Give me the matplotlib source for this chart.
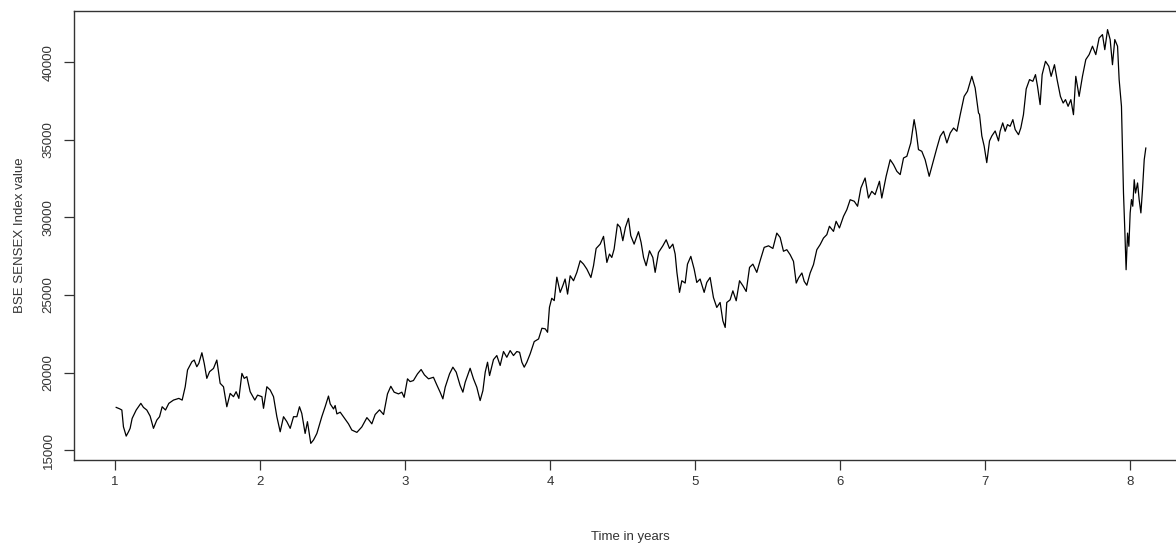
import matplotlib
matplotlib.use("Agg")
import matplotlib.pyplot as plt

plt.rcParams['font.family'] = ['Liberation Sans', 'DejaVu Sans']

# time (years) and BSE SENSEX index values
time_years = [
    1.007, 1.030, 1.046, 1.057, 1.076, 1.092, 1.103, 1.117, 1.145, 1.177, 1.195, 1.218,
    1.241, 1.264, 1.287, 1.306, 1.324, 1.347, 1.370, 1.402, 1.439, 1.462, 1.483, 1.499,
    1.529, 1.545, 1.563, 1.577, 1.598, 1.614, 1.632, 1.651, 1.678, 1.701, 1.724, 1.747,
    1.770, 1.793, 1.816, 1.834, 1.853, 1.874, 1.890, 1.908, 1.931, 1.963, 1.982, 2.012,
    2.023, 2.046, 2.069, 2.092, 2.115, 2.138, 2.161, 2.184, 2.207, 2.230, 2.253, 2.271,
    2.287, 2.310, 2.326, 2.349, 2.368, 2.391, 2.425, 2.448, 2.471,
    2.483, 2.506, 2.517, 2.529, 2.552, 2.586, 2.609, 2.632, 2.667, 2.701, 2.736, 2.754,
    2.770, 2.793, 2.823, 2.851, 2.878, 2.901, 2.924, 2.954, 2.977, 2.993, 3.016, 3.034,
    3.057, 3.085, 3.110, 3.133, 3.161, 3.195, 3.218, 3.241, 3.260, 3.276, 3.306, 3.329,
    3.352, 3.379, 3.398, 3.414, 3.448, 3.471, 3.494, 3.517, 3.536, 3.552, 3.568, 3.582,
    3.609, 3.632, 3.655, 3.678, 3.701, 3.724, 3.747, 3.770, 3.789, 3.805, 3.821, 3.839,
    3.862, 3.890, 3.920, 3.943, 3.966, 3.982, 3.995, 4.011, 4.028, 4.046,
    4.069, 4.087, 4.103, 4.120, 4.138, 4.161, 4.184, 4.207, 4.230, 4.253, 4.281, 4.299,
    4.317, 4.345, 4.368, 4.391, 4.409, 4.425, 4.441, 4.464, 4.483, 4.501, 4.519, 4.540,
    4.556, 4.579, 4.609, 4.627, 4.644, 4.662, 4.685, 4.708, 4.724, 4.747, 4.777, 4.800,
    4.823, 4.846, 4.862, 4.874, 4.892, 4.908, 4.931, 4.947, 4.970, 4.993, 5.011, 5.034,
    5.062, 5.080, 5.103, 5.126, 5.149, 5.172, 5.191, 5.207, 5.218, 5.241, 5.260, 5.283,
    5.306, 5.329, 5.352, 5.375, 5.398, 5.425, 5.448, 5.476, 5.506, 5.536, 5.563, 5.586,
    5.609, 5.632, 5.655, 5.678, 5.697, 5.713, 5.736, 5.752, 5.770, 5.793, 5.816, 5.839,
    5.862, 5.885, 5.908, 5.926, 5.954, 5.972, 5.995, 6.023, 6.046, 6.069, 6.097, 6.120,
    6.143, 6.172, 6.195, 6.218, 6.241, 6.271, 6.287, 6.317, 6.345, 6.368, 6.391, 6.414,
    6.437, 6.460, 6.487, 6.510, 6.524, 6.540, 6.563, 6.586, 6.614, 6.639, 6.667, 6.690,
    6.713, 6.736, 6.759, 6.782, 6.805, 6.828, 6.855, 6.878, 6.908, 6.931, 6.954,
    6.961, 6.977, 6.993, 7.011, 7.030, 7.046, 7.069, 7.092,
    7.103, 7.121, 7.138, 7.154, 7.172, 7.191, 7.207, 7.230, 7.246, 7.264, 7.283, 7.306,
    7.329, 7.347, 7.361, 7.379, 7.393, 7.416, 7.439, 7.455, 7.478, 7.496, 7.519, 7.538,
    7.554, 7.572, 7.591, 7.609, 7.625, 7.648, 7.671, 7.694, 7.717, 7.740, 7.763, 7.786,
    7.809, 7.825, 7.844, 7.862, 7.878, 7.894, 7.913, 7.924, 7.940, 7.954, 7.963, 7.972,
    7.982, 7.991, 8.000, 8.009, 8.018, 8.028, 8.037, 8.051, 8.062, 8.074, 8.085, 8.097,
    8.108,
]
sensex = [
    17760, 17670, 17590, 16510, 15910, 16190, 16410, 17050, 17590, 18020, 17760, 17590,
    17200, 16410, 16940, 17160, 17800, 17590, 18020, 18230, 18340, 18230, 19090, 20170,
    20700, 20810, 20380, 20600, 21280, 20600, 19630, 20060, 20270, 20810, 19310, 19090,
    17800, 18660, 18450, 18770, 18340, 19950, 19630, 19740, 18770, 18230, 18550, 18450,
    17700, 19090, 18880, 18450, 17160, 16190, 17160, 16840, 16410, 17160, 17160, 17800,
    17370, 16080, 16840, 15440, 15660, 16080, 17160, 17800, 18490,
    17985, 17660, 17880, 17340, 17450, 17000, 16700, 16300, 16150, 16500, 17100, 16900,
    16700, 17300, 17600, 17300, 18630, 19120, 18740, 18630, 18740, 18410, 19600, 19420,
    19490, 19920, 20200, 19850, 19600, 19700, 19210, 18740, 18310, 19060, 19920, 20350,
    20030, 19170, 18740, 19380, 20280, 19600, 19060, 18200, 18840, 20030, 20670, 19810,
    20840, 21100, 20460, 21360, 20990, 21420, 21100, 21360, 21310, 20670, 20350, 20670,
    21210, 22000, 22170, 22860, 22820, 22600, 24210, 24790, 24640, 26150,
    25170, 25600, 26030, 25060, 26240, 25920, 26460, 27210, 26990, 26670, 26130, 26890,
    28000, 28280, 28780, 27100, 27640, 27420, 27960, 29570, 29360, 28500, 29360, 29940,
    28820, 28280, 29080, 28390, 27420, 26890, 27850, 27420, 26460, 27740, 28170, 28560,
    28000, 28280, 27640, 26460, 25170, 25920, 25770, 26990, 27490, 26670, 25810, 26030,
    25170, 25810, 26130, 24840, 24200, 24520, 23340, 22910, 24520, 24690, 25270, 24630,
    25920, 25600, 25230, 26780, 26990, 26460, 27210, 28070, 28170, 28000, 28990, 28710,
    27820, 27920, 27600, 27170, 25770, 26100, 26420, 25880, 25630, 26420, 26960, 27920,
    28250, 28670, 28890, 29430, 29100, 29750, 29320, 30070, 30500, 31140, 31040, 30720,
    31900, 32540, 31250, 31680, 31470, 32330, 31250, 32650, 33720, 33400, 32970, 32760,
    33830, 33940, 34800, 36300, 35550, 34370, 34260, 33720, 32650, 33510, 34480, 35230,
    35550, 34800, 35440, 35760, 35550, 36620, 37800, 38130, 39090, 38340, 36730,
    36640, 35250, 34600, 33530, 34930, 35250, 35570, 34930,
    35550, 36090, 35550, 35980, 35870, 36300, 35660, 35330, 35770, 36620, 38280, 38880,
    38770, 39200, 38450, 37270, 39200, 40060, 39740, 39090, 39840, 38880, 37800, 37370,
    37590, 37160, 37590, 36620, 39090, 37800, 39090, 40170, 40490, 41030, 40490, 41560,
    41780, 40810, 42100, 41460, 39840, 41460, 41030, 38880, 37160, 31570, 29210, 26630,
    28990, 28140, 30290, 31150, 30720, 32430, 31570, 32220, 31150, 30290, 31790, 33720,
    34470,
]
x_ticks = [1, 2, 3, 4, 5, 6, 7, 8]
y_ticks = [15000, 20000, 25000, 30000, 35000, 40000]

W, H = 1176, 548
fig = plt.figure(figsize=(W / 100, H / 100), dpi=100)
left_px, right_px, top_px, bottom_px = 74, 1187, 11, 460
ax = fig.add_axes([left_px / W, 1 - bottom_px / H,
                   (right_px - left_px) / W, (bottom_px - top_px) / H])

ax.plot(time_years, sensex, color='black', linewidth=0.9)

ax.set_xlim(0.716, 8.392)
ax.set_ylim(14370, 43300)
ax.set_xticks(x_ticks)
ax.set_xticklabels([str(t) for t in x_ticks])
ax.set_yticks(y_ticks)
ax.set_yticklabels([str(t) for t in y_ticks], rotation=90, va='center')

text_col = '#333333'
for s in ax.spines.values():
    s.set_color('#333333')
    s.set_linewidth(1.0)
ax.tick_params(direction='out', length=7, width=0.9, color='#333333',
               labelsize=9.5, labelcolor=text_col)
ax.tick_params(axis='x', pad=4.5)
ax.tick_params(axis='y', pad=7)

ax.set_xlabel('Time in years', fontsize=9.5, color=text_col, labelpad=31)
ax.set_ylabel('BSE SENSEX Index value', fontsize=9.5, color=text_col, labelpad=12)

fig.savefig('out.png', dpi=100, facecolor='white')
